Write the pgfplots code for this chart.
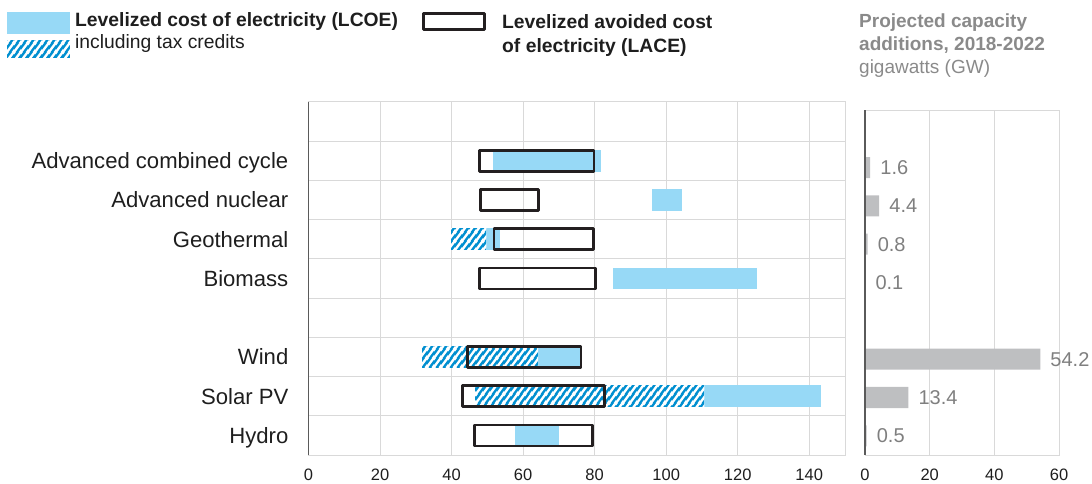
\documentclass[border=0pt]{standalone}
\usepackage{fontspec}
\setmainfont{Liberation Sans}
\usepackage{pgfplots}
\pgfplotsset{compat=1.18}
\usetikzlibrary{patterns}
\definecolor{lcoe}{HTML}{97D9F6}
\definecolor{hatchblue}{HTML}{008FD0}
\definecolor{lace}{HTML}{231F20}
\definecolor{gridgray}{HTML}{D9D9D9}
\definecolor{axisdark}{HTML}{5A5A5A}
\definecolor{capgray}{HTML}{BEBFC1}
\definecolor{valgray}{HTML}{7F7F7F}
\definecolor{titlegray}{HTML}{8A8A8A}
\definecolor{labblack}{HTML}{1E1E1E}
\pgfdeclarepatternformonly{diagstripes}{\pgfqpoint{0bp}{0bp}}{\pgfqpoint{7bp}{9bp}}{\pgfqpoint{7bp}{9bp}}{%
  \pgfsetlinewidth{2.6bp}%
  \pgfpathmoveto{\pgfqpoint{-7bp}{-9bp}}\pgfpathlineto{\pgfqpoint{14bp}{18bp}}%
  \pgfpathmoveto{\pgfqpoint{-7bp}{0bp}}\pgfpathlineto{\pgfqpoint{7bp}{18bp}}%
  \pgfpathmoveto{\pgfqpoint{0bp}{-9bp}}\pgfpathlineto{\pgfqpoint{14bp}{9bp}}%
  \pgfusepath{stroke}}
% floating bar: style, x0, x1, ylow, yhigh
\newcommand{\rect}[5]{\addplot[#1] coordinates {(#2,#4) (#3,#4) (#3,#5) (#2,#5)} -- cycle;}
\tikzset{
  lcoebar/.style={draw=none, fill=lcoe},
  hatchbar/.style={draw=none, fill=hatchblue, postaction={pattern=diagstripes, pattern color=white}},
  lacebox/.style={draw=lace, line width=2.7bp, line join=round, fill=none},
}
\begin{document}
\begin{tikzpicture}
% ---------- left panel ----------
\begin{axis}[
  at={(308.5bp,29bp)}, anchor=south west,
  scale only axis, width=536.5bp, height=353bp,
  xmin=0, xmax=150, ymin=0, ymax=9,
  xtick={0,20,...,140},
  xmajorgrids, grid style={gridgray, line width=1bp},
  ytick={0.5,1.5,2.5,4.5,5.5,6.5,7.5},
  yticklabels={Hydro,Solar PV,Wind,Biomass,Geothermal,Advanced nuclear,Advanced combined cycle},
  minor ytick={1,2,...,8}, yminorgrids,
  minor grid style={gridgray, line width=1bp},
  major tick length=0pt, minor tick length=0pt,
  axis line style={gridgray, line width=1bp},
  /pgf/number format/assume math mode=true,
  xticklabel style={font=\fontsize{16.5bp}{18bp}\selectfont, color=labblack, anchor=base, inner sep=0pt, yshift=-25.7bp},
  yticklabel style={font=\fontsize{22.1bp}{24bp}\selectfont, color=labblack, anchor=base east, inner sep=0pt, xshift=-20bp, yshift=-7.9bp},
  clip=false,
]
% LCOE (light) and LCOE with tax credits (hatched)
\rect{lcoebar}{51.6}{81.8}{7.223}{7.777}
\rect{lcoebar}{96.1}{104.4}{6.223}{6.777}
\rect{lcoebar}{49.7}{53.6}{5.223}{5.777}
\rect{hatchbar}{39.9}{49.7}{5.223}{5.777}
\rect{lcoebar}{85.0}{125.4}{4.223}{4.777}
\rect{lcoebar}{64.2}{75.9}{2.223}{2.777}
\rect{hatchbar}{31.8}{64.2}{2.223}{2.777}
\rect{lcoebar}{110.7}{143.2}{1.223}{1.777}
\rect{hatchbar}{46.6}{110.7}{1.223}{1.777}
\rect{lcoebar}{57.6}{69.9}{0.223}{0.777}
% LACE boxes
\rect{lacebox}{47.8}{79.8}{7.232}{7.768}
\rect{lacebox}{48.1}{64.4}{6.232}{6.768}
\rect{lacebox}{51.9}{79.7}{5.232}{5.768}
\rect{lacebox}{47.9}{80.2}{4.232}{4.768}
\rect{lacebox}{44.5}{76.2}{2.232}{2.768}
\rect{lacebox}{43.0}{82.7}{1.232}{1.768}
\rect{lacebox}{46.4}{79.5}{0.232}{0.768}
\draw[axisdark, line width=1.4bp] (rel axis cs:0,0) -- (rel axis cs:0,1);
\end{axis}
% ---------- right panel ----------
\begin{axis}[
  at={(865bp,29bp)}, anchor=south west,
  scale only axis, width=194bp, height=345bp,
  xmin=0, xmax=60, ymin=0, ymax=9,
  xtick={0,20,40,60},
  xmajorgrids, grid style={gridgray, line width=1bp},
  ytick=\empty,
  minor ytick={1,2,...,8}, yminorgrids,
  minor grid style={gridgray, line width=1bp},
  major tick length=0pt, minor tick length=0pt,
  axis line style={gridgray, line width=1bp},
  /pgf/number format/assume math mode=true,
  xticklabel style={font=\fontsize{16.5bp}{18bp}\selectfont, color=labblack, anchor=base, inner sep=0pt, yshift=-25.7bp},
  xbar, bar width=21bp,
  nodes near coords={\pgfmathprintnumber[fixed,precision=1,zerofill]{\pgfplotspointmeta}},
  every node near coord/.style={anchor=west, inner sep=0pt, xshift=10bp, font=\fontsize{20bp}{22bp}\selectfont, color=valgray},
  clip=false,
]
\addplot[draw=none, fill=capgray] coordinates {
  (1.6,7.5) (4.4,6.5) (0.8,5.5) (0.1,4.5) (54.2,2.5) (13.4,1.5) (0.5,0.5)
};
\draw[axisdark, line width=1.4bp] (rel axis cs:0,0) -- (rel axis cs:0,1);
\end{axis}
% ---------- legend ----------
\fill[lcoe] (7bp,450bp) rectangle (70bp,472bp);
\fill[hatchblue] (7bp,426bp) rectangle (70bp,444bp);
\fill[pattern=diagstripes, pattern color=white] (7bp,426bp) rectangle (70bp,444bp);
\node[anchor=base west, inner sep=0pt, color=labblack] at (75bp,457bp)
  {\bfseries\fontsize{19.3bp}{21bp}\selectfont Levelized cost of electricity (LCOE)};
\node[anchor=base west, inner sep=0pt, color=labblack] at (75bp,435bp)
  {\fontsize{19.3bp}{21bp}\selectfont including tax credits};
\draw[lace, line width=2.7bp, line join=round] (423.3bp,454.3bp) rectangle (484.7bp,470.7bp);
\node[anchor=base west, inner sep=0pt, color=labblack] at (502bp,455bp)
  {\bfseries\fontsize{19.3bp}{21bp}\selectfont Levelized avoided cost};
\node[anchor=base west, inner sep=0pt, color=labblack] at (502bp,431bp)
  {\bfseries\fontsize{19.3bp}{21bp}\selectfont of electricity (LACE)};
\node[anchor=base west, inner sep=0pt, color=titlegray] at (859bp,456bp)
  {\bfseries\fontsize{19bp}{20bp}\selectfont Projected capacity};
\node[anchor=base west, inner sep=0pt, color=titlegray] at (859bp,433bp)
  {\bfseries\fontsize{19bp}{20bp}\selectfont additions, 2018-2022};
\node[anchor=base west, inner sep=0pt, color=titlegray] at (859bp,410bp)
  {\fontsize{19bp}{20bp}\selectfont gigawatts (GW)};
\pgfresetboundingbox
\useasboundingbox (0,0) rectangle (1092bp,484bp);
\end{tikzpicture}
\end{document}
